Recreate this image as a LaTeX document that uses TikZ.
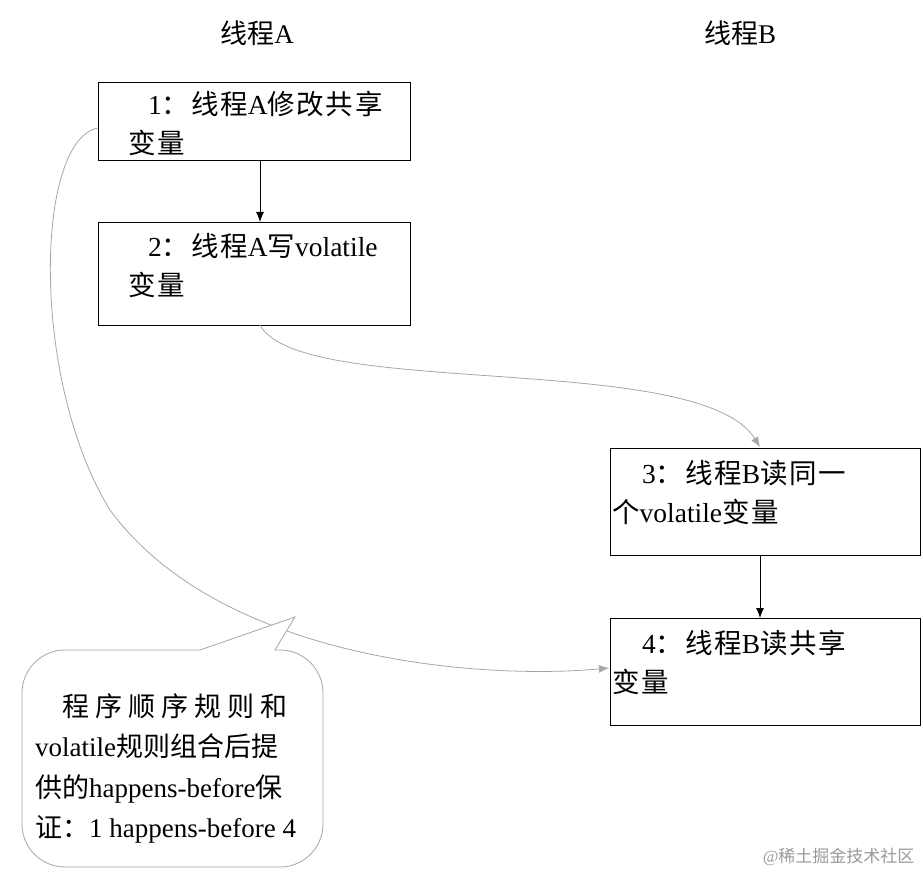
\documentclass[tikz,border=0pt]{standalone}
\usepackage{fontspec}
\setmainfont{Liberation Serif}
\newfontfamily\cjk[LetterSpace=6]{Noto Sans CJK SC}
\newfontfamily\cjkn{Noto Sans CJK SC}
\newcommand{\C}[1]{{\cjk #1}}
\newcommand{\N}[1]{{\cjkn #1}}
\usetikzlibrary{arrows.meta}
\begin{document}
\begin{tikzpicture}[x=1pt,y=-1pt,
  box/.style={draw=black,line width=0.8pt,fill=white},
  txt/.style={anchor=north west,align=left,font=\fontsize{27.5}{39}\selectfont,inner sep=0pt},
  blk/.style={-{Latex[length=10pt,width=8pt]},line width=0.8pt,black},
  gry/.style={-{Latex[length=10pt,width=8pt]},line width=0.8pt,gray!70}]
\useasboundingbox (0,0) rectangle (923,874);
\node[font=\fontsize{27}{30}\selectfont] (ta) at (257,33) {\N{线程}A};
\node[font=\fontsize{27}{30}\selectfont] (tb) at (740,33) {\N{线程}B};
\draw[box] (98,82) rectangle (410,160); \coordinate (b1w) at (98,128);
\node[txt] (t1) at (128,91) {\hspace*{20pt}1\C{：线程}A\C{修改共享}\\\C{变量}};
\draw[box] (98,222) rectangle (410,325);
\node[txt] (t2) at (128,233) {\hspace*{20pt}2\C{：线程}A\C{写}volatile\\\C{变量}};
\draw[box] (610,448) rectangle (920,555);
\node[txt] (t3) at (612,460) {\hspace*{30pt}3\C{：线程}B\C{读同一}\\\C{个}volatile\C{变量}};
\draw[box] (610,618) rectangle (920,725);
\node[txt] (t4) at (612,630) {\hspace*{30pt}4\C{：线程}B\C{读共享}\\\C{变量}};
\coordinate (a1) at (260,160); \coordinate (a2) at (260,222);
\draw[blk] (a1) -- (a2);
\coordinate (c1) at (760,555); \coordinate (c2) at (760,618);
\draw[blk] (c1) -- (c2);
\coordinate (b2s) at (260,325); \coordinate (b3n) at (760,447);
\draw[gry] (b2s) .. controls (300,400) and (700,350) .. (b3n);
\coordinate (b4w) at (609,668);
\draw[gry] (b1w) .. controls (35,140) and (30,380) .. (110,510)
  .. controls (220,660) and (480,680) .. (b4w);
% callout
\draw[gray!70,line width=0.8pt,fill=white] (200,650) -- (295,617) -- (275,650)
  -- (280,650) arc[start angle=-90,end angle=0,radius=43] -- (323,824)
  arc[start angle=0,end angle=90,radius=43] -- (65,867)
  arc[start angle=90,end angle=180,radius=43] -- (22,693)
  arc[start angle=180,end angle=270,radius=43] -- cycle;
\node[txt,font=\fontsize{27}{40.5}\selectfont] (ct) at (35,693)
  {\hspace*{27pt}\N{程\ 序\ 顺\ 序\ 规\ 则\ 和}\\volatile\N{规则组合后提}\\\N{供的}happens-before\N{保}\\\N{证：}1 happens-before 4};
\node[font=\fontsize{17}{19}\selectfont,text=gray!80,anchor=east] (wm) at (918,857) {@\N{稀土掘金技术社区}};
\end{tikzpicture}
\end{document}
